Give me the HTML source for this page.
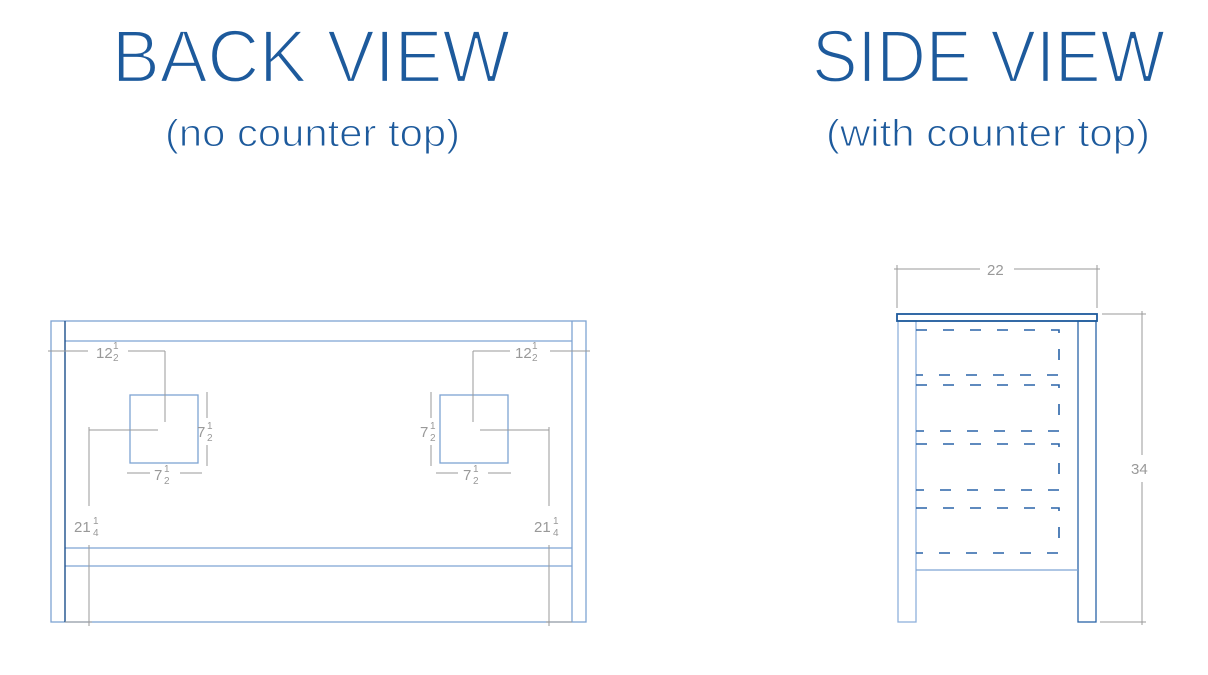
<!DOCTYPE html>
<html><head><meta charset="utf-8"><style>
html,body{margin:0;padding:0;background:#fff;}
svg{display:block;}
.t{font-family:"Liberation Sans",sans-serif;fill:#1d5a9c;stroke:#fff;paint-order:normal;}
.d{font-family:"Liberation Sans",sans-serif;fill:#999;font-size:15px;}
.f{font-family:"Liberation Sans",sans-serif;fill:#999;font-size:10px;}
</style></head><body>
<svg width="1208" height="675" viewBox="0 0 1208 675" xmlns="http://www.w3.org/2000/svg">
<text class="t" x="112" y="82" font-size="74" stroke-width="2.2" textLength="398" lengthAdjust="spacingAndGlyphs">BACK VIEW</text>
<text class="t" x="165" y="146" font-size="38" stroke-width="1" textLength="295" lengthAdjust="spacingAndGlyphs">(no counter top)</text>
<text class="t" x="812" y="82" font-size="74" stroke-width="2.2" textLength="353" lengthAdjust="spacingAndGlyphs">SIDE VIEW</text>
<text class="t" x="826" y="146" font-size="38" stroke-width="1" textLength="324" lengthAdjust="spacingAndGlyphs">(with counter top)</text>

<g fill="none" stroke="#7ea3d3" stroke-width="1.3">
<rect x="51" y="321" width="535" height="301"/>
<line x1="65" y1="341" x2="572" y2="341"/>
<line x1="65" y1="548" x2="572" y2="548"/>
<line x1="65" y1="566" x2="572" y2="566"/>
<line x1="572" y1="321" x2="572" y2="622"/>
<rect x="130" y="395" width="68" height="68"/>
<rect x="440" y="395" width="68" height="68"/>
</g>
<line x1="65" y1="321" x2="65" y2="622" stroke="#1d4f8c" stroke-width="1.4"/>

<g stroke="#9a9a9a" stroke-width="1" fill="none">
<line x1="48" y1="351" x2="88" y2="351"/><line x1="128" y1="351" x2="165" y2="351"/>
<line x1="165" y1="351" x2="165" y2="422"/>
<line x1="89" y1="430" x2="158" y2="430"/>
<line x1="89" y1="427" x2="89" y2="506"/><line x1="89" y1="545" x2="89" y2="626"/>
<line x1="65" y1="622" x2="92" y2="622"/>
<line x1="207" y1="392" x2="207" y2="418"/><line x1="207" y1="445" x2="207" y2="466"/>
<line x1="127" y1="473" x2="150" y2="473"/><line x1="180" y1="473" x2="202" y2="473"/>
<line x1="590" y1="351" x2="550" y2="351"/><line x1="510" y1="351" x2="473" y2="351"/>
<line x1="473" y1="351" x2="473" y2="422"/>
<line x1="549" y1="430" x2="480" y2="430"/>
<line x1="549" y1="427" x2="549" y2="506"/><line x1="549" y1="545" x2="549" y2="626"/>
<line x1="572" y1="622" x2="546" y2="622"/>
<line x1="431" y1="392" x2="431" y2="418"/><line x1="431" y1="445" x2="431" y2="466"/>
<line x1="436" y1="473" x2="458" y2="473"/><line x1="488" y1="473" x2="511" y2="473"/>
<line x1="894" y1="269" x2="980" y2="269"/><line x1="1014" y1="269" x2="1100" y2="269"/>
<line x1="897" y1="265" x2="897" y2="308"/><line x1="1097" y1="265" x2="1097" y2="308"/>
<line x1="1102" y1="314" x2="1146" y2="314"/><line x1="1100" y1="622" x2="1146" y2="622"/>
<line x1="1142" y1="311" x2="1142" y2="455"/><line x1="1142" y1="482" x2="1142" y2="625"/>
</g>
<text class="d" x="96" y="358">12</text><text class="f" x="113" y="349">1</text><text class="f" x="113" y="361">2</text>
<text class="d" x="515" y="358">12</text><text class="f" x="532" y="349">1</text><text class="f" x="532" y="361">2</text>
<text class="d" x="197" y="437">7</text><text class="f" x="207" y="429">1</text><text class="f" x="207" y="441">2</text>
<text class="d" x="420" y="437">7</text><text class="f" x="430" y="429">1</text><text class="f" x="430" y="441">2</text>
<text class="d" x="154" y="480">7</text><text class="f" x="164" y="472">1</text><text class="f" x="164" y="484">2</text>
<text class="d" x="463" y="480">7</text><text class="f" x="473" y="472">1</text><text class="f" x="473" y="484">2</text>
<text class="d" x="74" y="532">21</text><text class="f" x="93" y="524">1</text><text class="f" x="93" y="536">4</text>
<text class="d" x="534" y="532">21</text><text class="f" x="553" y="524">1</text><text class="f" x="553" y="536">4</text>
<text class="d" x="987" y="275">22</text>
<text class="d" x="1131" y="474">34</text>

<g fill="none" stroke-width="1.3">
<rect x="898" y="321" width="18" height="301" stroke="#8eb0dc"/>
<rect x="1078" y="321" width="18" height="301" stroke="#2a64a8"/>
<line x1="916" y1="570" x2="1078" y2="570" stroke="#7ea3d3"/>
<rect x="897" y="314" width="200" height="7" stroke="#1d5a9c" stroke-width="1.8"/>
<g stroke="#2a64a8" stroke-width="1.6">
<path d="M916 330 H1059 V375 H916" stroke-dasharray="11 16"/>
<path d="M916 385 H1059 V431 H916" stroke-dasharray="11 16"/>
<path d="M916 444 H1059 V490 H916" stroke-dasharray="11 16"/>
<path d="M916 508 H1059 V553 H916" stroke-dasharray="11 16"/>
</g>
</g>
</svg>
</body></html>
